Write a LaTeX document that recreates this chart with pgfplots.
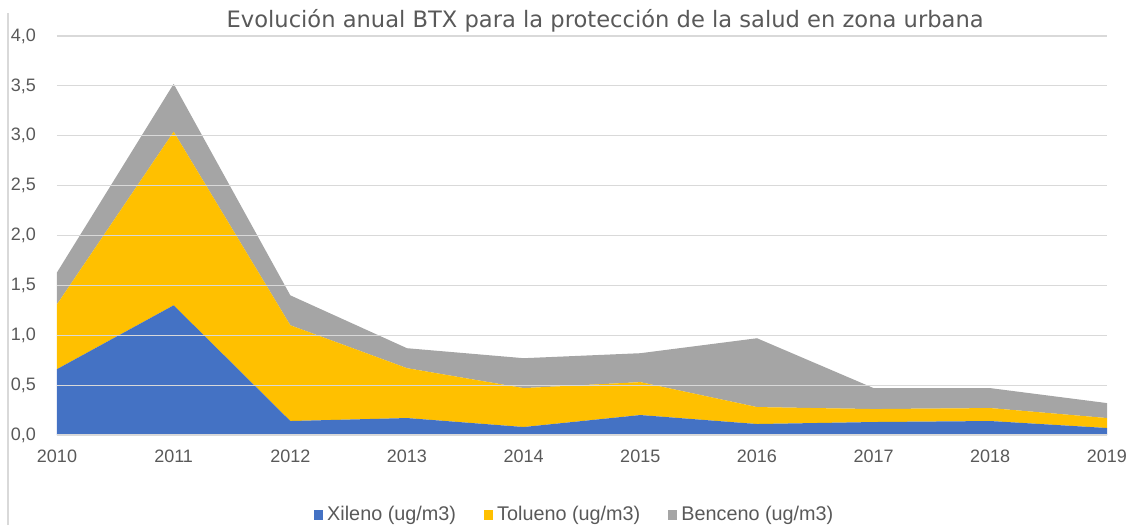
\documentclass[border=0pt]{standalone}
\usepackage{pgfplots}
\pgfplotsset{compat=1.18}
\usepackage{fontspec}
\setmainfont{Liberation Sans}
\newfontfamily\titlefont{DejaVu Sans}
\definecolor{cBlue}{HTML}{4472C4}
\definecolor{cYel}{HTML}{FFC000}
\definecolor{cGray}{HTML}{A5A5A5}
\definecolor{cText}{HTML}{595959}
\definecolor{cGrid}{HTML}{D9D9D9}
\begin{document}
\begin{tikzpicture}
\useasboundingbox (-28.5pt,-45pt) rectangle (541.5pt,217.5pt);
\draw[cGrid, line width=0.6pt] (-24.5pt,-45pt) -- (-24.5pt,211pt);
\begin{axis}[
  at={(0,0)}, anchor=south west,
  scale only axis, width=525pt, height=199.5pt,
  xmin=2010, xmax=2019, ymin=0, ymax=4,
  stack plots=y,
  area style,
  xtick={2010,...,2019},
  ytick={0,0.5,...,4},
  axis y line*=left,
  y axis line style={draw=none},
  axis x line*=bottom,
  x axis line style={cGrid, line width=0.8pt},
  ymajorgrids, grid style={cGrid, line width=0.6pt},
  major tick length=0pt,
  tick label style={font=\fontsize{9}{10}\selectfont, text=cText},
  xticklabel style={/pgf/number format/1000 sep={}, /pgf/number format/assume math mode=true},
  yticklabel={\pgfmathprintnumber[use comma,fixed,fixed zerofill,precision=1,assume math mode=true]{\tick}},
  every y tick label/.append style={xshift=-7pt},
  every x tick label/.append style={yshift=-4pt},
  legend style={at={(rel axis cs:0.494,0)}, anchor=center, yshift=-40pt, draw=none, fill=none,
    font=\fontsize{9.9}{11}\selectfont, text=cText, legend columns=3,
    /tikz/every odd column/.append style={column sep=0pt},
    /tikz/every even column/.append style={column sep=12pt}},
  legend image code/.code={\fill[#1, draw=none] (0pt,-2.3pt) rectangle (4.6pt,2.3pt);},
  legend cell align=left,
  clip=false,
]
\addplot[draw=none, fill=cBlue] coordinates {
 (2010,0.66) (2011,1.30) (2012,0.14) (2013,0.17) (2014,0.08) (2015,0.20) (2016,0.11) (2017,0.13) (2018,0.14) (2019,0.07)
} \closedcycle;
\addlegendentry{Xileno (ug/m3)}
\addplot[draw=none, fill=cYel] coordinates {
 (2010,0.65) (2011,1.74) (2012,0.96) (2013,0.50) (2014,0.39) (2015,0.33) (2016,0.17) (2017,0.13) (2018,0.13) (2019,0.10)
} \closedcycle;
\addlegendentry{Tolueno (ug/m3)}
\addplot[draw=none, fill=cGray] coordinates {
 (2010,0.32) (2011,0.48) (2012,0.30) (2013,0.20) (2014,0.30) (2015,0.29) (2016,0.69) (2017,0.21) (2018,0.20) (2019,0.15)
} \closedcycle;
\addlegendentry{Benceno (ug/m3)}
\node[anchor=base, text=cText, font=\titlefont\fontsize{11.3}{13}\selectfont] at (rel axis cs:0.522,1.022) {Evolución anual BTX para la protección de la salud en zona urbana};
\end{axis}
\end{tikzpicture}
\end{document}
